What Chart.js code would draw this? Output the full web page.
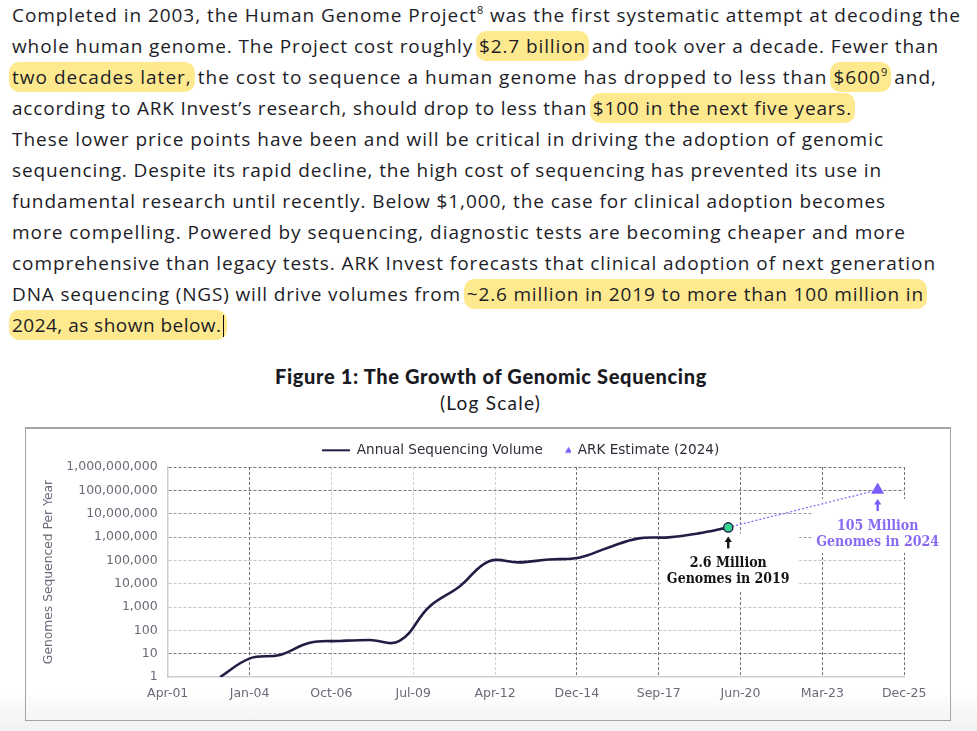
<!DOCTYPE html>
<html>
<head>
<meta charset="utf-8">
<script src="https://cdn.jsdelivr.net/npm/chart.js@4.4.1/dist/chart.umd.min.js"></script>
<style>
html,body{margin:0;padding:0;}
body{width:977px;height:731px;position:relative;overflow:hidden;
  background:linear-gradient(to bottom,#ffffff 0,#ffffff 690px,#f1f1f1 731px);
  font-family:"Open Sans","Noto Sans",sans-serif;color:#1d1d27;}
.ln{position:absolute;left:12px;height:31px;line-height:31px;font-size:19px;white-space:nowrap;}
.hl{background:#ffe98f;border-radius:10px;padding:2px 3px;margin:0 -3px;}
sup{font-size:11px;line-height:0;vertical-align:8px;}
.cur{display:inline-block;width:1.5px;height:22px;background:#111;vertical-align:-5px;margin-left:1px;}
#title{position:absolute;top:364px;white-space:nowrap;font-family:Lato,sans-serif;font-weight:900;font-size:20px;line-height:24px;color:#1a1a22;}
#sub{position:absolute;top:391px;white-space:nowrap;font-family:Lato,sans-serif;font-size:19px;line-height:24px;color:#1a1a22;}
#box{position:absolute;left:25px;top:427px;width:924px;height:291px;border:1.5px solid #a4a4aa;border-top-width:2px;}
#wrap{position:absolute;left:0;top:0;width:924px;height:291px;}
</style>
</head>
<body>
<div class="ln" style="top:0px" data-w="949">Completed in 2003, the Human Genome Project<sup>8</sup> was the first systematic attempt at decoding the</div>
<div class="ln" style="top:31px" data-w="927">whole human genome. The Project cost roughly <span class="hl">$2.7 billion</span> and took over a decade. Fewer than</div>
<div class="ln" style="top:62px" data-w="925"><span class="hl">two decades later,</span> the cost to sequence a human genome has dropped to less than <span class="hl">$600<sup>9</sup></span> and,</div>
<div class="ln" style="top:93px" data-w="840">according to ARK Invest’s research, should drop to less than <span class="hl">$100 in the next five years.</span></div>
<div class="ln" style="top:124px" data-w="872">These lower price points have been and will be critical in driving the adoption of genomic</div>
<div class="ln" style="top:155px" data-w="870">sequencing. Despite its rapid decline, the high cost of sequencing has prevented its use in</div>
<div class="ln" style="top:186px" data-w="874">fundamental research until recently. Below $1,000, the case for clinical adoption becomes</div>
<div class="ln" style="top:217px" data-w="894">more compelling. Powered by sequencing, diagnostic tests are becoming cheaper and more</div>
<div class="ln" style="top:248px" data-w="924">comprehensive than legacy tests. ARK Invest forecasts that clinical adoption of next generation</div>
<div class="ln" style="top:279px" data-w="912">DNA sequencing (NGS) will drive volumes from <span class="hl">~2.6 million in 2019 to more than 100 million in</span></div>
<div class="ln" style="top:310px" data-w="212"><span class="hl">2024, as shown below.<span class="cur"></span></span></div>

<div id="title" data-w="432" data-cx="491">Figure 1: The Growth of Genomic Sequencing</div>
<div id="sub" data-w="101" data-cx="490.5">(Log Scale)</div>

<div id="box"><div id="wrap"><canvas id="chart" width="924" height="291"></canvas></div></div>

<script>
// ---------------- data ----------------
const tickLabels = ['Apr-01','Jan-04','Oct-06','Jul-09','Apr-12','Dec-14','Sep-17','Jun-20','Mar-23','Dec-25'];
const years = [2003,2004,2005,2006,2007,2008,2009,2010,2011,2012,2013,2014,2015,2016,2017,2018,2019,2020];
const volumes = [1,6.3,8.8,29.5,35,38.6,35,1030,7400,92000,82000,110000,130000,360000,880000,970000,1440000,2600000];
const estimateYears = [2025];
const estimateValues = [105000000];
const yTickValues = [1,10,100,1000,10000,100000,1000000,10000000,100000000,1000000000];
const noteLast = ['2.6 Million','Genomes in 2019'];
const noteEstimate = ['105 Million','Genomes in 2024'];
const seriesNames = ['Annual Sequencing Volume','ARK Estimate (2024)'];

// ---------------- text fitting ----------------
function fitText(){
  document.querySelectorAll('[data-w]').forEach(el=>{
    el.style.letterSpacing='0px';
    const w=+el.dataset.w, n=el.textContent.length;
    const cur=el.getBoundingClientRect().width;
    el.style.letterSpacing=((w-cur)/n)+'px';
    if(el.dataset.cx){ el.style.left=(+el.dataset.cx - el.getBoundingClientRect().width/2)+'px'; }
  });
}
fitText();
if(document.fonts&&document.fonts.ready){document.fonts.ready.then(fitText);}

// ---------------- chart ----------------
const axisStart = 2001 + 90/365;
const axisStep = 1000/365.25;
const axisEnd = axisStart + (tickLabels.length-1)*axisStep;
const lastYear = years[years.length-1], lastValue = volumes[volumes.length-1];

const NAVY='#201e45', PURPLE='#7c5cfa', PURPLE_TXT='#8a6af2', GREEN='#37d594';
const TICK_COLOR='#6a6a78';

// legend glyphs
const lineImg=document.createElement('canvas'); lineImg.width=28; lineImg.height=4;
(function(){const c=lineImg.getContext('2d');c.fillStyle=NAVY;c.fillRect(0,1,28,2);})();
const triImg=document.createElement('canvas'); triImg.width=28; triImg.height=10;
(function(){const c=triImg.getContext('2d');c.fillStyle=PURPLE;c.beginPath();c.moveTo(25.6,1.5);c.lineTo(29.2,7.5);c.lineTo(22,7.5);c.closePath();c.fill();})();

const xDark=i=>[1,5,6,7,8,9].includes(i);
const yDark=v=>v===1e9||v===1e8||v===10;
const yMid=v=>v===1e7||v===1e6;

const notesPlugin={
  id:'notes',
  afterLayout(chart){ chart.legend.left+=55.5; chart.legend.right+=55.5; },
  beforeDatasetsDraw(chart){
    const ctx=chart.ctx, xs=chart.scales.x, ys=chart.scales.y;
    const x1=xs.getPixelForValue(lastYear), y1=ys.getPixelForValue(lastValue);
    const x2=xs.getPixelForValue(estimateYears[0]), y2=ys.getPixelForValue(estimateValues[0]);
    ctx.save(); ctx.fillStyle='#ffffff';
    ctx.fillRect(x1-67,y1+6,138,57);
    ctx.fillRect(x2-65,y2+9,124,54);
    ctx.restore();
  },
  afterDatasetsDraw(chart){
    const ctx=chart.ctx, xs=chart.scales.x, ys=chart.scales.y;
    const x1=xs.getPixelForValue(lastYear), y1=ys.getPixelForValue(lastValue);
    const x2=xs.getPixelForValue(estimateYears[0]), y2=ys.getPixelForValue(estimateValues[0]);
    function arrow(x,yt,yb,color){
      ctx.fillStyle=color; ctx.beginPath();
      ctx.moveTo(x,yt); ctx.lineTo(x+3.6,yt+5.5); ctx.lineTo(x-3.6,yt+5.5); ctx.closePath(); ctx.fill();
      ctx.fillRect(x-1.2,yt+4,2.4,yb-yt-4);
    }
    function label(text,x,y){
      ctx.save(); ctx.translate(x,y); ctx.scale(0.87,1); ctx.fillText(text,0,0); ctx.restore();
    }
    ctx.save();
    arrow(x1,y1+9,y1+21,'#141414');
    arrow(x2,y2+9,y2+21,PURPLE);
    ctx.font='bold 14.5px "DejaVu Serif","Liberation Serif",serif';
    ctx.textAlign='center'; ctx.textBaseline='middle';
    ctx.fillStyle='#141414';
    label(noteLast[0],x1,y1+35.6);
    label(noteLast[1],x1,y1+51.6);
    ctx.fillStyle=PURPLE_TXT;
    label(noteEstimate[0],x2,y2+36);
    label(noteEstimate[1],x2,y2+52);
    ctx.restore();
  }
};

new Chart(document.getElementById('chart'),{
  type:'line',
  data:{datasets:[
    {label:seriesNames[0],data:years.map((y,i)=>({x:y,y:volumes[i]})),borderColor:NAVY,backgroundColor:NAVY,
     borderWidth:2.6,tension:0.4,pointRadius:0,order:2},
    {label:seriesNames[1],data:estimateYears.map((y,i)=>({x:y,y:estimateValues[i]})),showLine:false,
     pointStyle:'triangle',pointRadius:7.5,backgroundColor:PURPLE,borderColor:PURPLE,borderWidth:0,order:1},
    {label:'projection',data:[{x:lastYear,y:lastValue},{x:estimateYears[0],y:estimateValues[0]}],
     borderColor:'#8a6cf7',borderWidth:1.3,borderDash:[2,2],pointRadius:0,order:3},
    {label:'2019',data:[{x:lastYear,y:lastValue}],showLine:false,pointRadius:4.6,
     backgroundColor:GREEN,borderColor:NAVY,borderWidth:1.4,order:0}
  ]},
  options:{
    responsive:false,animation:false,
    layout:{padding:{top:14.5,left:0,right:45.8,bottom:0}},
    plugins:{
      tooltip:{enabled:false},
      legend:{
        display:true,position:'top',align:'center',
        labels:{
          usePointStyle:true,pointStyleWidth:28,padding:0,
          font:{family:'DejaVu Sans',size:13.6},color:'#2c2c3a',
          filter:item=>item.datasetIndex<2,
          sort:(a,b)=>a.datasetIndex-b.datasetIndex,
          generateLabels(chart){
            const items=Chart.defaults.plugins.legend.labels.generateLabels(chart);
            items.forEach(it=>{ if(it.datasetIndex===0) it.pointStyle=lineImg; if(it.datasetIndex===1) it.pointStyle=triImg; });
            return items;
          }
        }
      }
    },
    scales:{
      x:{
        type:'linear',min:axisStart,max:axisEnd,
        afterBuildTicks(s){ s.ticks=tickLabels.map((_,i)=>({value:axisStart+i*axisStep})); },
        afterFit(s){ s.height=43; },
        ticks:{autoSkip:false,maxRotation:0,padding:9,color:TICK_COLOR,
          font:{family:'DejaVu Sans',size:12.5},callback:(v,i)=>tickLabels[i]},
        grid:{drawTicks:false,lineWidth:1,
          color:c=>c.index===0?'rgba(0,0,0,0)':(xDark(c.index)?'#6f6f7a':'#d0d0d6')},
        border:{display:true,color:'#cdcdd2',width:1.5,dash:[3,2]}
      },
      y:{
        type:'logarithmic',min:1,max:1e9,
        afterBuildTicks(s){ s.ticks=yTickValues.map(v=>({value:v})); },
        afterFit(s){ s.width=141.7; },
        ticks:{padding:10,color:TICK_COLOR,font:{family:'DejaVu Sans',size:12.5},
          callback:v=>Number(v).toLocaleString('en-US')},
        grid:{drawTicks:false,lineWidth:1,
          color:c=>{const v=c.tick?c.tick.value:0; if(v===1) return 'rgba(0,0,0,0)'; return yDark(v)?'#73737e':(yMid(v)?'#9a9aa4':'#c4c4cb');}},
        border:{display:true,color:'#cdcdd2',width:1.5,dash:[3,2]},
        title:{display:true,text:'Genomes Sequenced Per Year',color:TICK_COLOR,
          font:{family:'DejaVu Sans',size:12.3},padding:{top:15,bottom:0}}
      }
    }
  },
  plugins:[notesPlugin]
});
</script>
</body>
</html>
